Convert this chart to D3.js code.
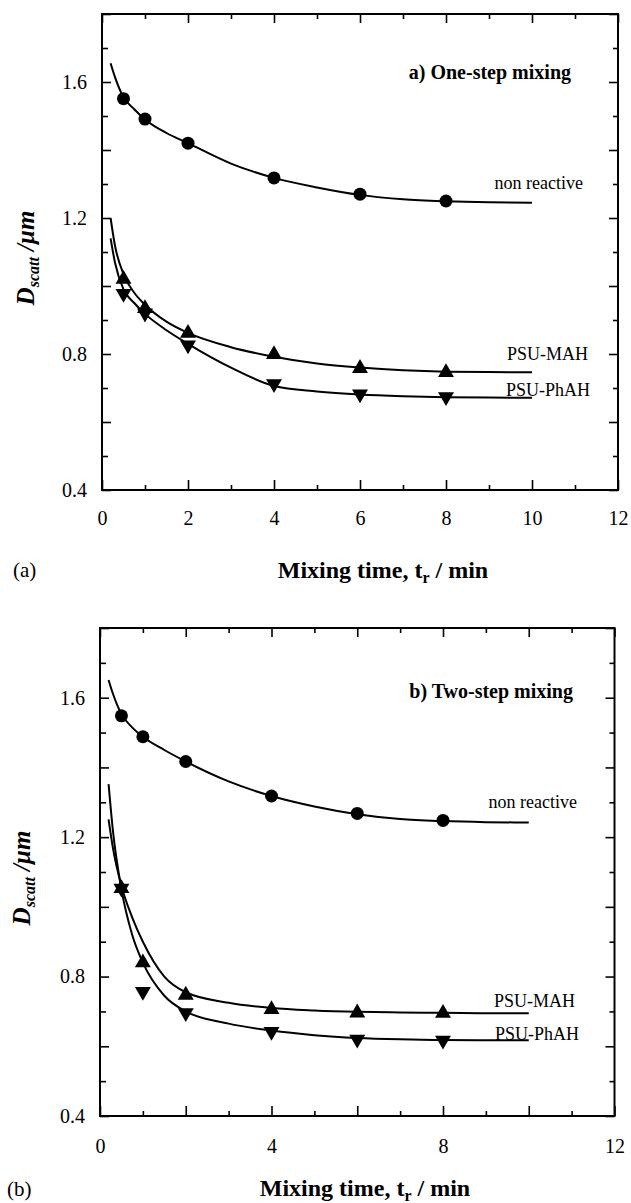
<!DOCTYPE html>
<html>
<head>
<meta charset="utf-8">
<script src="https://cdn.jsdelivr.net/npm/d3@7"></script>
<style>
  body { margin: 0; background: #fff; }
  svg { display: block; font-family: 'Liberation Serif', 'Times New Roman', serif; }
</style>
</head>
<body>
<div id="app"></div>
<script>
// measured points (mixing time in min, Dscatt in um)
const times = [0.5, 1, 2, 4, 6, 8]
const aNonReactive = [1.551, 1.491, 1.42, 1.318, 1.27, 1.25]
const aMAH = [1.02, 0.934, 0.861, 0.799, 0.758, 0.746]
const aPhAH = [0.978, 0.92, 0.826, 0.712, 0.682, 0.674]
const bNonReactive = [1.548, 1.488, 1.417, 1.318, 1.268, 1.248]
const bMAH = [1.053, 0.84, 0.747, 0.706, 0.696, 0.695]
const bPhAH = [1.053, 0.757, 0.696, 0.642, 0.62, 0.617]

// fitted curves
const fitTimes = [0.2, 0.3, 0.5, 0.75, 1, 1.5, 2, 3, 4, 5, 6, 7, 8, 9, 10]
const aFitNonReactive = [1.655, 1.615, 1.555, 1.52, 1.49, 1.45, 1.42, 1.36, 1.318, 1.29, 1.268, 1.255, 1.249, 1.246, 1.245]
const aFitMAH = [1.2, 1.12, 1.035, 0.98, 0.945, 0.895, 0.862, 0.82, 0.792, 0.772, 0.76, 0.752, 0.748, 0.747, 0.746]
const aFitPhAH = [1.14, 1.07, 0.99, 0.95, 0.918, 0.87, 0.83, 0.76, 0.706, 0.69, 0.681, 0.676, 0.673, 0.672, 0.671]
const bFitNonReactive = [1.651, 1.612, 1.553, 1.515, 1.488, 1.45, 1.417, 1.36, 1.318, 1.288, 1.266, 1.252, 1.246, 1.243, 1.242]
const bFitMAH = [1.251, 1.17, 1.06, 0.97, 0.9, 0.8, 0.755, 0.725, 0.71, 0.703, 0.699, 0.697, 0.696, 0.695, 0.695]
const bFitPhAH = [1.352, 1.22, 1.05, 0.92, 0.84, 0.745, 0.7, 0.665, 0.645, 0.632, 0.624, 0.62, 0.618, 0.617, 0.617]

const yLabelTicks = [0.4, 0.8, 1.2, 1.6]
const aXLabelTicks = [0, 2, 4, 6, 8, 10, 12]
const bXLabelTicks = [0, 4, 8, 12]
const seriesNames = ['non reactive', 'PSU-MAH', 'PSU-PhAH']

const W = 631, H = 1203
const svg = d3.select('#app').append('svg').attr('width', W).attr('height', H)

let drawPanel = (cfg) => {
  let x = d3.scaleLinear().domain([0, 12]).range([cfg.left, cfg.right])
  let y = d3.scaleLinear().domain([0.4, 1.8]).range([cfg.bottom, cfg.top])
  let g = svg.append('g')

  let xMajor = d3.range(0, 12.01, 2)
  let xMinor = d3.range(1, 12, 2)
  let yMajor = d3.range(0.4, 1.81, 0.2).map(v => +v.toFixed(1))
  let yMinor = d3.range(0.5, 1.8, 0.2).map(v => +v.toFixed(1))

  let addAxis = (axis, tx, ty) => {
    let a = g.append('g').attr('transform', `translate(${tx},${ty})`).call(axis)
    a.select('.domain').remove()
    a.selectAll('line').attr('stroke', '#000').attr('stroke-width', 1.6)
    a.selectAll('text').attr('fill', '#000').attr('font-size', 20).attr('font-family', 'Liberation Serif')
    return a
  }

  // bottom
  addAxis(d3.axisBottom(x).tickValues(xMajor).tickSize(-10).tickFormat(''), 0, cfg.bottom)
  addAxis(d3.axisBottom(x).tickValues(xMinor).tickSize(-5).tickFormat(''), 0, cfg.bottom)
  addAxis(d3.axisBottom(x).tickValues(cfg.xLabels).tickSize(0).tickPadding(cfg.xPad).tickFormat(d3.format('d')), 0, cfg.bottom)
  // top
  addAxis(d3.axisTop(x).tickValues(xMajor).tickSize(-9).tickFormat(''), 0, cfg.top)
  addAxis(d3.axisTop(x).tickValues(xMinor).tickSize(-5).tickFormat(''), 0, cfg.top)
  // left
  addAxis(d3.axisLeft(y).tickValues(yMajor).tickSize(-9).tickFormat(''), cfg.left, 0)
  addAxis(d3.axisLeft(y).tickValues(yMinor).tickSize(-6).tickFormat(''), cfg.left, 0)
  addAxis(d3.axisLeft(y).tickValues(yLabelTicks).tickSize(0).tickPadding(15).tickFormat(d3.format('.1f')), cfg.left, 0)
  // right
  addAxis(d3.axisRight(y).tickValues(yMajor).tickSize(-9).tickFormat(''), cfg.right, 0)
  addAxis(d3.axisRight(y).tickValues(yMinor).tickSize(-5).tickFormat(''), cfg.right, 0)

  g.append('rect')
    .attr('x', cfg.left).attr('y', cfg.top)
    .attr('width', cfg.right - cfg.left).attr('height', cfg.bottom - cfg.top)
    .attr('fill', 'none').attr('stroke', '#000').attr('stroke-width', 2)

  let line = d3.line()
    .x(d => x(d[0]))
    .y(d => y(d[1]))
    .curve(d3.curveMonotoneX)

  cfg.fits.forEach(vals => {
    g.append('path')
      .datum(fitTimes.map((t, i) => [t, vals[i]]))
      .attr('d', line)
      .attr('fill', 'none')
      .attr('stroke', '#000')
      .attr('stroke-width', 2)
  })

  // markers
  g.selectAll('circle.pt')
    .data(times.map((t, i) => [t, cfg.points[0][i]]))
    .enter().append('circle')
    .attr('class', 'pt')
    .attr('cx', d => x(d[0])).attr('cy', d => y(d[1]))
    .attr('r', 6.5).attr('fill', '#000')

  let tri = d3.symbol().type(d3.symbolTriangle).size(110)
  g.selectAll('path.up')
    .data(times.map((t, i) => [t, cfg.points[1][i]]))
    .enter().append('path')
    .attr('class', 'up')
    .attr('d', tri)
    .attr('transform', d => `translate(${x(d[0])},${y(d[1])})`)
    .attr('fill', '#000')
  g.selectAll('path.down')
    .data(times.map((t, i) => [t, cfg.points[2][i]]))
    .enter().append('path')
    .attr('class', 'down')
    .attr('d', tri)
    .attr('transform', d => `translate(${x(d[0])},${y(d[1])}) rotate(180)`)
    .attr('fill', '#000')

  // series labels
  cfg.seriesLabels.forEach((s, i) => {
    g.append('text')
      .attr('x', s.x).attr('y', s.y)
      .attr('text-anchor', 'end')
      .attr('font-size', 18)
      .text(seriesNames[i])
  })

  g.append('text')
    .attr('x', cfg.title.x).attr('y', cfg.title.y)
    .attr('text-anchor', 'end')
    .attr('font-size', 20).attr('font-weight', 'bold')
    .text(cfg.title.text)

  // x axis title
  let xt = g.append('text')
    .attr('x', cfg.xTitle.x).attr('y', cfg.xTitle.y)
    .attr('text-anchor', 'middle')
    .attr('font-size', 24).attr('font-weight', 'bold')
  xt.append('tspan').text('Mixing time, t')
  xt.append('tspan').attr('font-size', 16).attr('dy', 5).text('r')
  xt.append('tspan').attr('dy', -5).text(' / min')

  // y axis title
  let yt = g.append('text')
    .attr('transform', `translate(${cfg.yTitle.x},${cfg.yTitle.y}) rotate(-90)`)
    .attr('text-anchor', 'middle')
    .attr('font-size', 25).attr('font-weight', 'bold').attr('font-style', 'italic')
  yt.append('tspan').text('D')
  yt.append('tspan').attr('font-size', 16).attr('dy', 5).text('scatt')
  yt.append('tspan').attr('dy', -5).text(' /\u03bcm')

  g.append('text')
    .attr('x', cfg.tag.x).attr('y', cfg.tag.y)
    .attr('font-size', 21)
    .text(cfg.tag.text)
}

drawPanel({
  left: 102, right: 618, top: 14, bottom: 490, xPad: 21,
  xLabels: aXLabelTicks,
  points: [aNonReactive, aMAH, aPhAH],
  fits: [aFitNonReactive, aFitMAH, aFitPhAH],
  seriesLabels: [{x: 583, y: 189}, {x: 588, y: 360}, {x: 590, y: 396}],
  title: {text: 'a) One-step mixing', x: 571, y: 79},
  xTitle: {x: 383, y: 578},
  yTitle: {x: 34, y: 258},
  tag: {text: '(a)', x: 13, y: 577}
})

drawPanel({
  left: 100, right: 614.5, top: 628, bottom: 1116, xPad: 23,
  xLabels: bXLabelTicks,
  points: [bNonReactive, bMAH, bPhAH],
  fits: [bFitNonReactive, bFitMAH, bFitPhAH],
  seriesLabels: [{x: 577, y: 808}, {x: 575, y: 1007}, {x: 579, y: 1040}],
  title: {text: 'b) Two-step mixing', x: 573, y: 698},
  xTitle: {x: 365, y: 1196},
  yTitle: {x: 30, y: 878},
  tag: {text: '(b)', x: 7, y: 1196}
})
</script>
</body>
</html>
